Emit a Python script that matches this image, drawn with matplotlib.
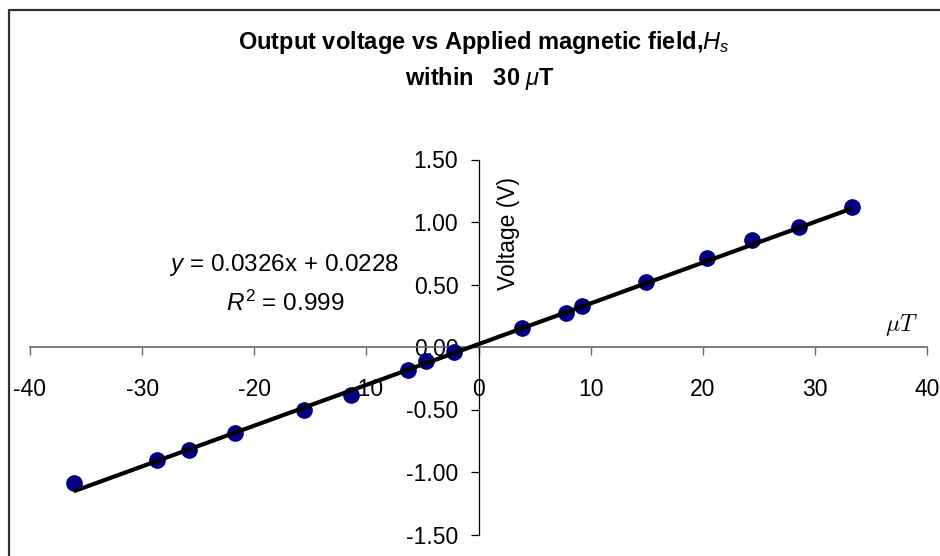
import numpy as np
import matplotlib.pyplot as plt
from matplotlib.lines import Line2D

# Applied field (uT) and output voltage (V)
field_ut = [-36.1, -28.7, -25.8, -21.7, -15.6, -11.4, -6.3, -4.7, -2.2,
            3.9, 7.8, 9.2, 14.9, 20.4, 24.4, 28.6, 33.3]
voltage_v = [-1.09, -0.90, -0.82, -0.69, -0.50, -0.38, -0.18, -0.11, -0.04,
             0.15, 0.27, 0.33, 0.52, 0.71, 0.86, 0.96, 1.12]

# Linear trendline shown on the chart
slope = 0.0326
intercept = 0.0228
r_squared = 0.999

x_ticks = [-40, -30, -20, -10, 0, 10, 20, 30, 40]
y_ticks = [-1.5, -1.0, -0.5, 0.0, 0.5, 1.0, 1.5]

plt.rcParams['font.family'] = ['Liberation Sans', 'DejaVu Sans']
plt.rcParams['mathtext.fontset'] = 'custom'
plt.rcParams['mathtext.rm'] = 'Liberation Sans'
plt.rcParams['mathtext.it'] = 'Liberation Sans:italic'
plt.rcParams['mathtext.bf'] = 'Liberation Sans:bold'

W, H = 940, 556
fig = plt.figure(figsize=(W / 100, H / 100), dpi=100)
ax = fig.add_axes([30 / W, 1 - 534.5 / H, 897 / W, 375 / H])

ax.set_xlim(-40, 40)
ax.set_ylim(-1.5, 1.5)

# Excel-style axes crossing at the origin
ax.spines['top'].set_visible(False)
ax.spines['right'].set_visible(False)
ax.spines['left'].set_position(('data', 0))
ax.spines['bottom'].set_position(('data', 0))
ax.spines['bottom'].set_color('#666666')
ax.spines['bottom'].set_linewidth(1.2)
ax.spines['left'].set_color('black')
ax.spines['left'].set_linewidth(0.9)

ax.set_xticks(x_ticks)
ax.set_xticklabels([str(t) for t in x_ticks])
ax.set_yticks(y_ticks)
ax.set_yticklabels([f'{t:.2f}' for t in y_ticks])
ax.tick_params(axis='x', direction='out', length=5.5, width=1, color='#666666',
               pad=17, labelsize=16.5)
ax.tick_params(axis='y', direction='out', length=6, width=0.9, color='black',
               pad=8.5, labelsize=16.5)

# trendline over the data range
xs = np.array([min(field_ut), max(field_ut)])
ax.plot(xs, slope * xs + intercept, color='black', lw=3, zorder=4,
        solid_capstyle='butt', clip_on=False)
ax.plot(field_ut, voltage_v, 'o', color='#000080', markersize=11, zorder=3,
        clip_on=False)

ax.text(509 / W, 1 - 233 / H, 'Voltage (V)', transform=fig.transFigure,
        rotation=90, ha='center', va='center', fontsize=16.5)
ax.text(901 / W, 1 - 325 / H, r'$\mu T$', transform=fig.transFigure,
        ha='center', va='center', fontsize=17, math_fontfamily='cm')

fig.text(284 / W, 1 - 265 / H,
         f'$y$ = {slope:.4f}x + {intercept:.4f}',
         ha='center', va='center', fontsize=17.5)
fig.text(285 / W, 1 - 303 / H, f'$R^2$ = {r_squared:.3f}',
         ha='center', va='center', fontsize=17.5)

fig.text(484 / W, 1 - 43 / H,
         r'Output voltage vs Applied magnetic field,$\mathit{H_s}$',
         ha='center', va='center', fontsize=17, fontweight='bold')
fig.text(480 / W, 1 - 78 / H, r'within   30 $\mu$T',
         ha='center', va='center', fontsize=17, fontweight='bold')

# chart frame (right and bottom edges fall outside the image)
fig.add_artist(Line2D([9 / W, 9 / W, 1], [0, 1 - 10 / H, 1 - 10 / H],
                      transform=fig.transFigure, color='#333333', lw=1.6))

fig.savefig('out.png', dpi=100)
